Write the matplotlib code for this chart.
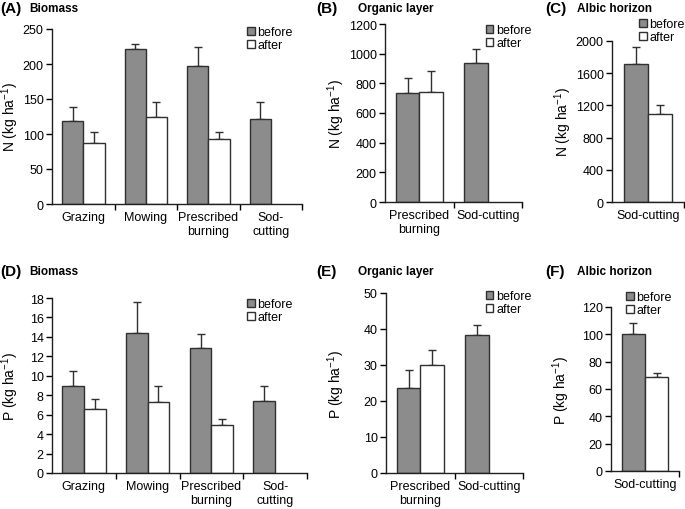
import numpy as np
import matplotlib
matplotlib.use("Agg")
import matplotlib.pyplot as plt
from matplotlib.patches import Patch

plt.rcParams['font.family'] = ['Liberation Sans', 'DejaVu Sans']
plt.rcParams['font.size'] = 9
plt.rcParams['mathtext.default'] = 'regular'

W, H = 685, 510

# data
biomass_cats = ["Grazing", "Mowing", "Prescribed\nburning", "Sod-\ncutting"]
organic_cats = ["Prescribed\nburning", "Sod-cutting"]
albic_cats = ["Sod-cutting"]

n_bio_before = [119, 221, 197, 122]
n_bio_before_err = [20, 8, 28, 24]
n_bio_after = [87, 125, 93, None]
n_bio_after_err = [16, 21, 10, None]

n_org_before = [735, 940]
n_org_before_err = [100, 90]
n_org_after = [740, None]
n_org_after_err = [140, None]

n_alb_before = [1710]
n_alb_before_err = [210]
n_alb_after = [1090]
n_alb_after_err = [110]

p_bio_before = [9.0, 14.4, 12.9, 7.4]
p_bio_before_err = [1.5, 3.2, 1.4, 1.6]
p_bio_after = [6.6, 7.3, 4.9, None]
p_bio_after_err = [1.0, 1.7, 0.7, None]

p_org_before = [23.5, 38.2]
p_org_before_err = [5.1, 2.9]
p_org_after = [30.0, None]
p_org_after_err = [4.3, None]

p_alb_before = [100]
p_alb_before_err = [8]
p_alb_after = [69]
p_alb_after_err = [3]

GRAY = "#8c8c8c"
EDGE = "#303030"


def px_axes(fig, left, right, top, bottom):
    return fig.add_axes([left / W, (H - bottom) / H, (right - left) / W, (bottom - top) / H])


def panel(fig, box, cats, before, before_err, after, after_err, ymax, ystep,
          ylabel, letter, title, letter_xy, title_x, ylabel_x, legend_xy):
    ax = px_axes(fig, *box)
    n = len(cats)
    w = 0.34
    x = np.arange(n)
    ax.bar(x - w / 2, before, w, color=GRAY, edgecolor=EDGE, linewidth=1, zorder=2)
    ax.errorbar(x - w / 2, before, yerr=[np.zeros(n), before_err], fmt='none',
                ecolor=EDGE, elinewidth=1, capsize=3.2, capthick=1, zorder=1)
    idx = [i for i, v in enumerate(after) if v is not None]
    av = [after[i] for i in idx]
    ae = [after_err[i] for i in idx]
    xa = np.array(idx) + w / 2
    ax.bar(xa, av, w, color="white", edgecolor=EDGE, linewidth=1, zorder=2)
    ax.errorbar(xa, av, yerr=[np.zeros(len(av)), ae], fmt='none',
                ecolor=EDGE, elinewidth=1, capsize=3.2, capthick=1, zorder=1)

    ax.set_xlim(-0.5, n - 0.5)
    ax.set_ylim(0, ymax)
    ax.set_yticks(np.arange(0, ymax + ystep / 2, ystep))
    ax.set_xticks(np.arange(n) + 0.5)
    ax.set_xticklabels([])
    ax.set_xticks(x, minor=True)
    ax.set_xticklabels(cats, minor=True)
    ax.tick_params(axis='x', which='minor', length=0, pad=5, labelsize=9)
    ax.tick_params(axis='x', which='major', length=4, width=1, direction='out')
    ax.tick_params(axis='y', length=4, width=1, direction='out', pad=2, labelsize=9)
    for s in ['top', 'right']:
        ax.spines[s].set_visible(False)
    for s in ['left', 'bottom']:
        ax.spines[s].set_linewidth(1)
        ax.spines[s].set_color("#202020")

    fig.text(ylabel_x / W, 1 - ((box[2] + box[3]) / 2) / H, ylabel, rotation=90,
             ha='center', va='center', fontsize=10)
    fig.text(letter_xy[0] / W, 1 - letter_xy[1] / H, letter, fontsize=11,
             fontweight='bold', ha='left', va='center')
    fig.text(title_x / W, 1 - letter_xy[1] / H, title, fontsize=8.5,
             fontweight='bold', ha='left', va='center')

    handles = [Patch(facecolor=GRAY, edgecolor=EDGE, label='before'),
               Patch(facecolor='white', edgecolor=EDGE, label='after')]
    ax.legend(handles=handles, loc='upper left',
              bbox_to_anchor=(legend_xy[0] / W, 1 - legend_xy[1] / H),
              bbox_transform=fig.transFigure, frameon=False, fontsize=9,
              handlelength=0.6, handleheight=0.6, handletextpad=0.25,
              labelspacing=0.1, borderpad=0, borderaxespad=0)
    return ax


fig = plt.figure(figsize=(W / 100, H / 100), dpi=100)

nlab = "N (kg ha$^{-1}$)"
plab = "P (kg ha$^{-1}$)"

panel(fig, (52, 302, 30, 205), biomass_cats, n_bio_before, n_bio_before_err,
      n_bio_after, n_bio_after_err, 250, 50, nlab, "(A)", "Biomass",
      (0, 9), 29, 10, (247, 27))
panel(fig, (385, 522, 25, 203), organic_cats, n_org_before, n_org_before_err,
      n_org_after, n_org_after_err, 1200, 200, nlab, "(B)", "Organic layer",
      (316, 9), 358, 336, (486, 25))
panel(fig, (612, 684, 42, 203), albic_cats, n_alb_before, n_alb_before_err,
      n_alb_after, n_alb_after_err, 2000, 400, nlab, "(C)", "Albic horizon",
      (545, 9), 577, 563, (639, 19))
panel(fig, (52, 307, 299, 474), biomass_cats, p_bio_before, p_bio_before_err,
      p_bio_after, p_bio_after_err, 18, 2, plab, "(D)", "Biomass",
      (0, 272), 29, 10, (247, 299))
panel(fig, (386, 523, 294, 474), organic_cats, p_org_before, p_org_before_err,
      p_org_after, p_org_after_err, 50, 10, plab, "(E)", "Organic layer",
      (316, 272), 358, 336, (486, 291))
panel(fig, (611, 679, 308, 472), albic_cats, p_alb_before, p_alb_before_err,
      p_alb_after, p_alb_after_err, 120, 20, plab, "(F)", "Albic horizon",
      (545, 272), 577, 561, (626, 292))

fig.savefig("out.png", dpi=100)
